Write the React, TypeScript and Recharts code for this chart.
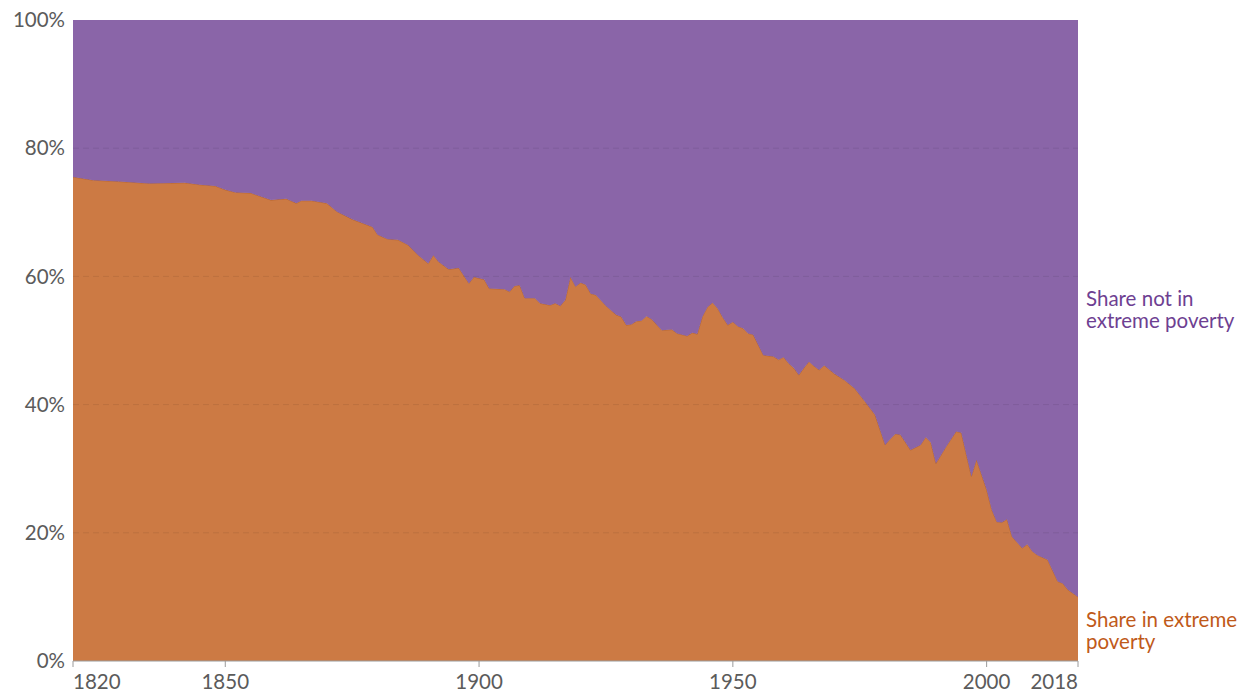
import React from 'react';
import { AreaChart, Area, XAxis, YAxis, ReferenceLine } from 'recharts';

// years where the curve was sampled from the picture
const years = [
  1820, 1824, 1829, 1835, 1842, 1845, 1848, 1850, 1852, 1855, 1859, 1862, 1864, 1865, 1867, 1870,
  1872, 1875, 1879, 1880, 1882, 1884, 1886, 1888, 1890, 1891, 1892, 1894, 1896, 1898, 1899, 1901,
  1902, 1905, 1906, 1907, 1908, 1909, 1911, 1912, 1914, 1915, 1916, 1917, 1918, 1919, 1920, 1921,
  1922, 1923, 1925, 1927, 1928, 1929, 1930, 1931, 1932, 1933, 1934, 1936, 1938, 1939, 1941, 1942,
  1943, 1944, 1945, 1946, 1947, 1948, 1949, 1950, 1951, 1952, 1953, 1954, 1956, 1958, 1959, 1960,
  1961, 1962, 1963, 1964, 1965, 1966, 1967, 1968, 1970, 1972, 1974, 1976, 1978, 1980, 1981, 1982,
  1983, 1985, 1987, 1988, 1989, 1990, 1992, 1994, 1995, 1997, 1998, 2000, 2001, 2002, 2003, 2004,
  2005, 2007, 2008, 2009, 2010, 2012, 2014, 2015, 2016, 2018,
];

// share of world population in extreme poverty (%)
const inPoverty = [
  75.5, 75.0, 74.8, 74.5, 74.6, 74.3, 74.1, 73.5, 73.1, 73.0, 71.9, 72.1, 71.4, 71.8, 71.8, 71.4,
  70.1, 68.9, 67.7, 66.5, 65.8, 65.7, 64.9, 63.3, 62.0, 63.3, 62.3, 61.1, 61.3, 58.9, 59.9, 59.5,
  58.1, 58.0, 57.6, 58.5, 58.6, 56.6, 56.6, 55.8, 55.5, 55.8, 55.4, 56.3, 59.9, 58.4, 59.0, 58.7,
  57.3, 57.1, 55.4, 54.0, 53.7, 52.4, 52.5, 53.0, 53.1, 53.8, 53.3, 51.6, 51.7, 51.1, 50.7, 51.2,
  51.0, 53.7, 55.2, 55.9, 55.0, 53.6, 52.4, 52.9, 52.2, 51.9, 51.1, 50.9, 47.7, 47.5, 47.0, 47.4,
  46.4, 45.7, 44.6, 45.7, 46.7, 46.0, 45.4, 46.1, 44.8, 43.8, 42.5, 40.5, 38.4, 33.7, 34.6, 35.4,
  35.3, 32.9, 33.7, 34.9, 34.1, 30.8, 33.4, 35.8, 35.6, 28.8, 31.4, 26.7, 23.6, 21.7, 21.6, 22.1,
  19.4, 17.6, 18.2, 17.1, 16.5, 15.8, 12.4, 12.1, 11.1, 10.0,
];

const xTicks = [1820, 1850, 1900, 1950, 2000, 2018];
const yTicks = [0, 20, 40, 60, 80, 100];

const data = years.map((year, i) => ({
  year,
  inPoverty: inPoverty[i],
  notInPoverty: 100 - inPoverty[i],
}));

const FONT = 'Lato, "Noto Sans", sans-serif';

// first label hangs right of its tick, last one left, the rest centred
function YearTick(props: any) {
  const { x, y, payload } = props;
  const v = payload.value;
  const anchor = v === xTicks[0] ? 'start' : v === xTicks[xTicks.length - 1] ? 'end' : 'middle';
  return (
    <text x={x} y={y + 20} textAnchor={anchor} fill="#5b5b5b" fontSize={20.5} fontFamily={FONT}>
      {v}
    </text>
  );
}

export default function App() {
  return (
    <div style={{ position: 'fixed', left: 0, top: 0, width: 1242, height: 693, background: '#fff', fontFamily: FONT }}>
      <AreaChart
        width={1242}
        height={693}
        data={data}
        margin={{ top: 20, right: 164, bottom: 0, left: 0 }}
      >
        <XAxis
          dataKey="year"
          type="number"
          domain={[1820, 2018]}
          ticks={xTicks}
          height={32}
          tickSize={6}
          axisLine={{ stroke: '#9a9a9a' }}
          tickLine={{ stroke: '#9a9a9a' }}
          tick={<YearTick />}
        />
        <YAxis
          type="number"
          domain={[0, 100]}
          ticks={yTicks}
          width={73}
          axisLine={false}
          tickLine={false}
          tickFormatter={(v) => `${v}%`}
          tick={{ fill: '#5b5b5b', fontSize: 20.5, fontFamily: FONT }}
        />
        <Area
          type="linear"
          dataKey="inPoverty"
          stackId="1"
          fill="#cc7a44"
          fillOpacity={1}
          stroke="#b9662f"
          strokeWidth={1}
          isAnimationActive={false}
        />
        <Area
          type="linear"
          dataKey="notInPoverty"
          stackId="1"
          fill="#8a65a8"
          fillOpacity={1}
          stroke="none"
          isAnimationActive={false}
        />
        {[20, 40, 60, 80].map((v) => (
          <ReferenceLine key={v} y={v} stroke="rgba(0,0,0,0.08)" strokeDasharray="6 4" />
        ))}
      </AreaChart>
      <div style={{ position: 'absolute', left: 1086, top: 287, color: '#6e3f92', fontSize: 20.5, lineHeight: '22px' }}>
        Share not in
        <br />
        extreme poverty
      </div>
      <div style={{ position: 'absolute', left: 1086, top: 608, color: '#bf5a1a', fontSize: 20.5, lineHeight: '22px' }}>
        Share in extreme
        <br />
        poverty
      </div>
    </div>
  );
}
